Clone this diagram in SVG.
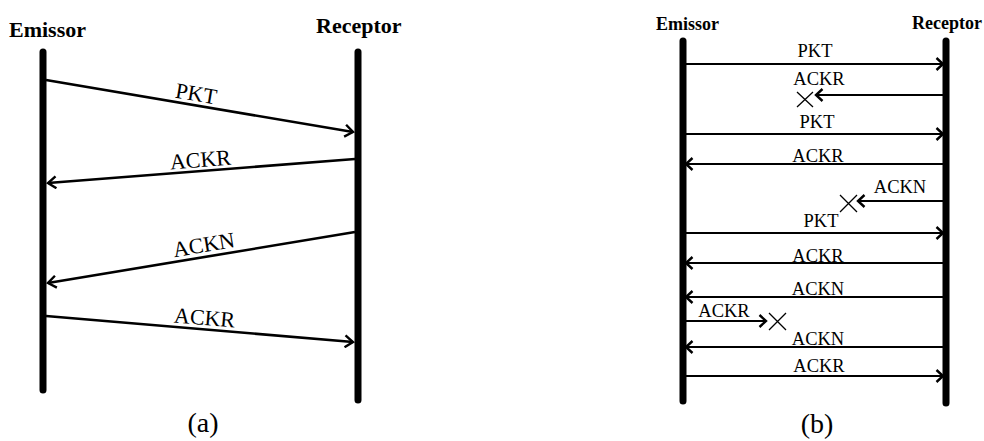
<svg xmlns="http://www.w3.org/2000/svg" width="984" height="441" viewBox="0 0 984 441" font-family="'Liberation Serif', 'Times New Roman', 'DejaVu Serif', serif">
  <style>
    .life { stroke: #000; stroke-width: 7; stroke-linecap: round; fill: none; }
    .msgA { stroke: #000; stroke-width: 2.6; fill: none; }
    .msgB { stroke: #000; stroke-width: 2.2; fill: none; }
    .lost { stroke: #000; stroke-width: 1.3; fill: none; }
    text { font-family: 'Liberation Serif', 'Times New Roman', 'DejaVu Serif', serif; fill: #000; }
    .head { font-weight: bold; }
    .lbl { text-anchor: middle; }
    .la { font-size: 22px; }
    .lb { font-size: 18.5px; }
    .cap { font-size: 28px; text-anchor: middle; }
  </style>
  <defs>
    <marker id="arrA" markerUnits="userSpaceOnUse" viewBox="-10 -7 12 14" refX="0" refY="0" markerWidth="12" markerHeight="14" orient="auto">
      <path d="M -8 -6 L 0 0 L -8 6" fill="none" stroke="#000" stroke-width="2.4"/>
    </marker>
    <marker id="arrB" markerUnits="userSpaceOnUse" viewBox="-10 -7 12 14" refX="0" refY="0" markerWidth="12" markerHeight="14" orient="auto">
      <path d="M -6.5 -6 L 0 0 L -6.5 6" fill="none" stroke="#000" stroke-width="2.4"/>
    </marker>
  </defs>

  <!-- Panel (a): slanted message exchange -->
  <g id="a-emissor">
    <line class="life" x1="43" y1="52" x2="43" y2="390"/>
    <text class="head" x="9" y="37" font-size="22">Emissor</text>
  </g>
  <g id="a-receptor">
    <line class="life" x1="358" y1="52" x2="358" y2="400"/>
    <text class="head" x="316" y="33" font-size="22">Receptor</text>
  </g>
  <g id="a-connectors">
    <line class="msgA" x1="46" y1="80" x2="353" y2="132" marker-end="url(#arrA)"/>
    <text class="lbl la" transform="translate(195,101) rotate(9.6)">PKT</text>
    <line class="msgA" x1="355" y1="159" x2="48" y2="183" marker-end="url(#arrA)"/>
    <text class="lbl la" transform="translate(201,167) rotate(-4.5)">ACKR</text>
    <line class="msgA" x1="355" y1="232" x2="48" y2="283" marker-end="url(#arrA)"/>
    <text class="lbl la" transform="translate(205,252) rotate(-9.5)">ACKN</text>
    <line class="msgA" x1="46" y1="316" x2="353" y2="342" marker-end="url(#arrA)"/>
    <text class="lbl la" transform="translate(204,325) rotate(4.9)">ACKR</text>
  </g>
  <text class="cap" x="203" y="432">(a)</text>

  <!-- Panel (b): horizontal message exchange with losses -->
  <g id="b-emissor">
    <line class="life" x1="683" y1="41" x2="683" y2="401"/>
    <text class="head" x="656" y="30" font-size="18">Emissor</text>
  </g>
  <g id="b-receptor">
    <line class="life" x1="946" y1="41" x2="946" y2="403"/>
    <text class="head" x="912" y="29" font-size="18">Receptor</text>
  </g>
  <g id="b-connectors">
    <line class="msgB" x1="686" y1="64" x2="943" y2="64" marker-end="url(#arrB)"/>
    <text class="lbl lb" x="815" y="57">PKT</text>

    <line class="msgB" x1="943" y1="95" x2="816" y2="95" marker-end="url(#arrB)"/>
    <text class="lbl lb" x="819" y="85">ACKR</text>
    <path class="lost" d="M 797 92 L 813 107 M 813 92 L 797 107"/>

    <line class="msgB" x1="686" y1="134" x2="943" y2="134" marker-end="url(#arrB)"/>
    <text class="lbl lb" x="817" y="128">PKT</text>

    <line class="msgB" x1="943" y1="164" x2="686" y2="164" marker-end="url(#arrB)"/>
    <text class="lbl lb" x="818" y="162">ACKR</text>

    <line class="msgB" x1="943" y1="201" x2="858" y2="201" marker-end="url(#arrB)"/>
    <text class="lbl lb" x="900" y="193">ACKN</text>
    <path class="lost" d="M 840 195 L 857 212 M 857 195 L 840 212"/>

    <line class="msgB" x1="686" y1="233" x2="943" y2="233" marker-end="url(#arrB)"/>
    <text class="lbl lb" x="821" y="227">PKT</text>

    <line class="msgB" x1="943" y1="263" x2="686" y2="263" marker-end="url(#arrB)"/>
    <text class="lbl lb" x="818" y="262">ACKR</text>

    <line class="msgB" x1="943" y1="297" x2="686" y2="297" marker-end="url(#arrB)"/>
    <text class="lbl lb" x="818" y="295">ACKN</text>

    <line class="msgB" x1="686" y1="321" x2="766" y2="321" marker-end="url(#arrB)"/>
    <text class="lbl lb" x="724" y="317">ACKR</text>
    <path class="lost" d="M 769 313 L 786 330 M 786 313 L 769 330"/>

    <line class="msgB" x1="943" y1="347" x2="686" y2="347" marker-end="url(#arrB)"/>
    <text class="lbl lb" x="818" y="345">ACKN</text>

    <line class="msgB" x1="686" y1="376" x2="943" y2="376" marker-end="url(#arrB)"/>
    <text class="lbl lb" x="819" y="372">ACKR</text>
  </g>
  <text class="cap" x="817" y="433">(b)</text>
</svg>
